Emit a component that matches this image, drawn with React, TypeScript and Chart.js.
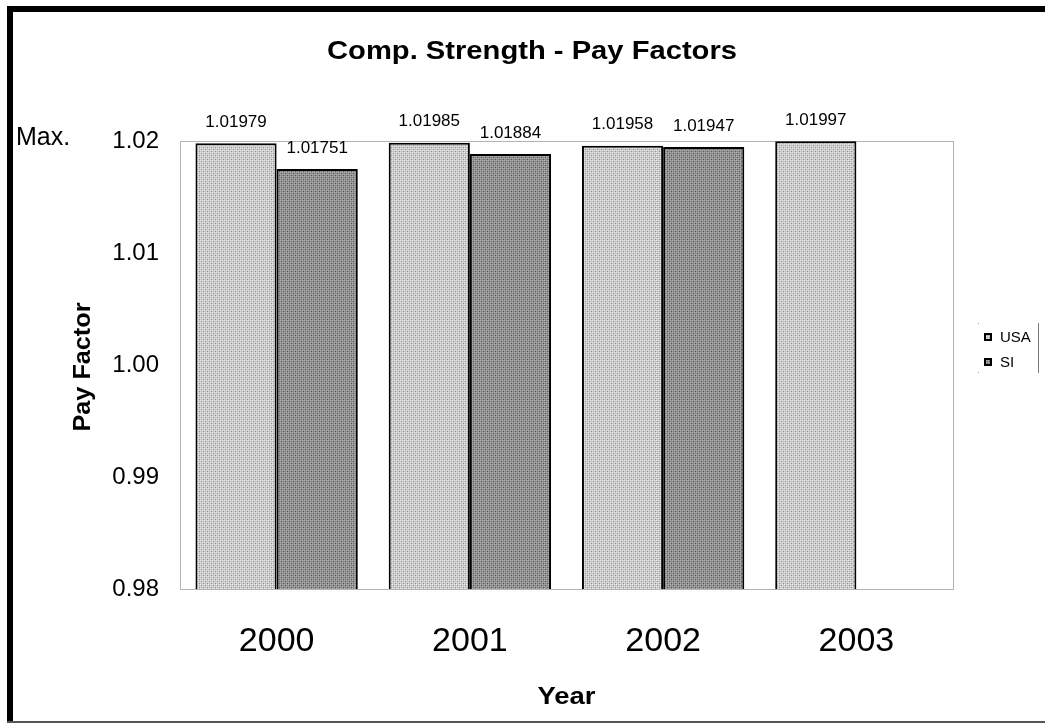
import React, { useEffect, useRef } from "react";
import { Chart, registerables } from "chart.js";

Chart.register(...registerables);

const categories = ["2000", "2001", "2002", "2003"];
const usaValues = [1.01979, 1.01985, 1.01958, 1.01997];
const siValues: (number | null)[] = [1.01751, 1.01884, 1.01947, null];
const usaLabels = ["1.01979", "1.01985", "1.01958", "1.01997"];
const siLabels = ["1.01751", "1.01884", "1.01947", ""];
const yTicks = [0.98, 0.99, 1.0, 1.01, 1.02];

const FONT = "'Liberation Sans', Arial, sans-serif";

function makePattern(a: string, b: string, c: string) {
  const cv = document.createElement("canvas");
  cv.width = 4;
  cv.height = 4;
  const g = cv.getContext("2d")!;
  g.fillStyle = a;
  g.fillRect(0, 0, 4, 4);
  g.fillStyle = b;
  g.fillRect(0, 0, 1, 1);
  g.fillRect(2, 2, 1, 1);
  g.fillRect(2, 0, 1, 1);
  g.fillRect(0, 2, 1, 1);
  g.fillStyle = c;
  g.fillRect(1, 1, 1, 1);
  g.fillRect(3, 3, 1, 1);
  const ctx = document.createElement("canvas").getContext("2d")!;
  return ctx.createPattern(cv, "repeat")!;
}

function stretchText(ctx: CanvasRenderingContext2D, text: string, x: number, y: number, targetW: number) {
  const w = ctx.measureText(text).width;
  const s = targetW / w;
  ctx.save();
  ctx.translate(x, y);
  ctx.scale(s, 1);
  ctx.fillText(text, 0, 0);
  ctx.restore();
}

const decorPlugin = {
  id: "decor",
  beforeDatasetsDraw(chart: any) {
    const { ctx, chartArea } = chart;
    ctx.save();
    ctx.strokeStyle = "#666";
    ctx.lineWidth = 1;
    ctx.setLineDash([1, 1]);
    ctx.strokeRect(
      chartArea.left + 0.5,
      chartArea.top + 0.5,
      chartArea.right - chartArea.left,
      chartArea.bottom - chartArea.top
    );
    ctx.restore();
  },
  afterDraw(chart: any) {
    const { ctx, chartArea } = chart;
    ctx.save();
    // frame
    ctx.fillStyle = "#000";
    ctx.fillRect(7, 6, 6, 717);
    ctx.fillRect(7, 6, 1038, 6);
    ctx.fillStyle = "#555";
    ctx.fillRect(7, 721, 1038, 2);

    // title
    ctx.fillStyle = "#000";
    ctx.textAlign = "center";
    ctx.textBaseline = "middle";
    ctx.font = `bold 25px ${FONT}`;
    stretchText(ctx, "Comp. Strength - Pay Factors", 532, 52, 410);

    // Max.
    ctx.textAlign = "left";
    ctx.font = `25px ${FONT}`;
    ctx.fillText("Max.", 16, 138);

    // y title
    ctx.save();
    ctx.translate(84, 367);
    ctx.rotate(-Math.PI / 2);
    ctx.textAlign = "center";
    ctx.font = `bold 23px ${FONT}`;
    stretchText(ctx, "Pay Factor", 0, 0, 129);
    ctx.restore();

    // x title
    ctx.textAlign = "center";
    ctx.font = `bold 24px ${FONT}`;
    stretchText(ctx, "Year", (chartArea.left + chartArea.right) / 2, 697, 58);

    // data labels
    ctx.font = `17px ${FONT}`;
    const labelSets = [usaLabels, siLabels];
    [0, 1].forEach((di) => {
      const meta = chart.getDatasetMeta(di);
      meta.data.forEach((bar: any, i: number) => {
        const txt = labelSets[di][i];
        const v = chart.data.datasets[di].data[i];
        if (!txt || v == null) return;
        ctx.fillText(txt, bar.x, bar.y - 21);
      });
    });

    // legend
    ctx.strokeStyle = "#777";
    ctx.lineWidth = 1;
    ctx.beginPath();
    ctx.moveTo(1038.5, 323);
    ctx.lineTo(1038.5, 373);
    ctx.stroke();
    ctx.fillStyle = "#999";
    ctx.fillRect(978, 323, 1, 1);
    ctx.fillRect(978, 372, 1, 1);
    const items = [
      { t: "USA", fill: chart.data.datasets[0].backgroundColor, y: 337 },
      { t: "SI", fill: chart.data.datasets[1].backgroundColor, y: 362 },
    ];
    items.forEach((it) => {
      ctx.fillStyle = "#000";
      ctx.fillRect(984, it.y - 4, 8, 8);
      ctx.fillStyle = it.fill;
      ctx.fillRect(986, it.y - 2, 4, 4);
      ctx.fillStyle = "#000";
      ctx.textAlign = "left";
      ctx.font = `15px ${FONT}`;
      ctx.fillText(it.t, 1000, it.y + 1);
    });
    ctx.restore();
  },
};

export default function App() {
  const ref = useRef<HTMLCanvasElement | null>(null);
  useEffect(() => {
    document.body.style.margin = "0";
    if (!ref.current) return;
    const usaFill = makePattern("#c4c4c4", "#ececec", "#9c9c9c");
    const siFill = makePattern("#8a8a8a", "#b4b4b4", "#5e5e5e");
    const chart = new Chart(ref.current, {
      type: "bar",
      data: {
        labels: categories,
        datasets: [
          {
            label: "USA",
            data: usaValues,
            backgroundColor: usaFill as any,
            borderColor: "#000",
            borderWidth: 2,
            borderSkipped: "bottom",
            categoryPercentage: 0.84,
            barPercentage: 1,
          },
          {
            label: "SI",
            data: siValues,
            backgroundColor: siFill as any,
            borderColor: "#000",
            borderWidth: 2,
            borderSkipped: "bottom",
            categoryPercentage: 0.84,
            barPercentage: 1,
          },
        ],
      },
      options: {
        responsive: false,
        animation: false,
        devicePixelRatio: 1,
        layout: { padding: { left: 0, top: 141, right: 92, bottom: 0 } },
        plugins: {
          legend: { display: false },
          title: { display: false },
          tooltip: { enabled: false },
        },
        scales: {
          x: {
            grid: { display: false, drawTicks: false },
            border: { display: false },
            ticks: {
              color: "#000",
              font: { size: 34, family: FONT },
              padding: 32,
            },
            afterFit(scale: any) {
              scale.height = 134;
            },
          },
          y: {
            min: 0.98,
            max: 1.02,
            grid: { display: false, drawTicks: false },
            border: { display: false },
            afterBuildTicks(scale: any) {
              scale.ticks = yTicks.map((v) => ({ value: v }));
            },
            ticks: {
              color: "#000",
              font: { size: 24, family: FONT },
              padding: 21,
              callback: (v: any) => Number(v).toFixed(2),
            },
            afterFit(scale: any) {
              scale.width = 180;
            },
          },
        },
      },
      plugins: [decorPlugin],
    });
    return () => chart.destroy();
  }, []);
  return (
    <div style={{ width: 1045, height: 723, position: "relative", background: "#fff" }}>
      <canvas ref={ref} width={1045} height={723} style={{ display: "block" }} />
    </div>
  );
}
